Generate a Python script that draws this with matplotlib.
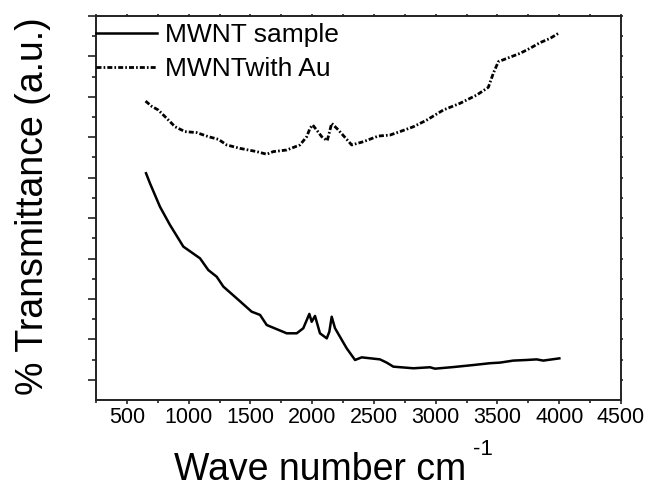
import numpy as np
import matplotlib
matplotlib.use("Agg")
import matplotlib.pyplot as plt
from matplotlib.ticker import FixedLocator, NullFormatter

plt.rcParams['font.family'] = ['Liberation Sans', 'DejaVu Sans']
plt.rcParams['lines.scale_dashes'] = False

# ---- data (wavenumber, transmittance in arbitrary units) ----
solid_x = [655, 687, 768, 849, 957, 1092, 1159, 1227, 1281, 1389, 1510, 1578, 1632,
           1794, 1875, 1928, 1977, 1996, 2023, 2063, 2118, 2139, 2158, 2185, 2279,
           2347, 2401, 2549, 2603, 2657, 2819, 2954, 2994, 3143, 3304, 3439, 3520,
           3628, 3736, 3817, 3871, 4001]
solid_y = [11.22, 10.72, 9.56, 8.66, 7.59, 7.01, 6.43, 6.10, 5.61, 5.03, 4.37, 4.21, 3.71,
           3.30, 3.30, 3.55, 4.26, 3.87, 4.16, 3.30, 3.05, 3.38, 4.12, 3.55, 2.56,
           1.98, 2.11, 2.01, 1.85, 1.65, 1.57, 1.62, 1.55, 1.63, 1.73, 1.82, 1.85,
           1.95, 1.98, 2.01, 1.95, 2.06]

au_x = [651, 701, 754, 822, 890, 970, 1065, 1159, 1240, 1308, 1416, 1551, 1632, 1685,
        1794, 1901, 1956, 1982, 2004, 2036, 2077, 2122, 2158, 2212, 2320, 2414, 2535,
        2630, 2711, 2819, 2927, 3062, 3197, 3332, 3426, 3466, 3507, 3575, 3682, 3763,
        3844, 3925, 4001]
au_y = [14.79, 14.53, 14.35, 13.94, 13.52, 13.28, 13.23, 13.03, 12.90, 12.62, 12.45, 12.29,
        12.16, 12.29, 12.37, 12.62, 13.03, 13.44, 13.61, 13.36, 13.03, 12.83, 13.69, 13.36,
        12.62, 12.78, 13.06, 13.11, 13.28, 13.52, 13.85, 14.35, 14.68, 15.09, 15.47, 16.16,
        16.74, 16.90, 17.15, 17.40, 17.68, 17.89, 18.17]

series_labels = ["MWNT sample", "MWNTwith Au"]
x_ticks = [500, 1000, 1500, 2000, 2500, 3000, 3500, 4000, 4500]
x_minor = [250, 750, 1250, 1750, 2250, 2750, 3250, 3750, 4250]

W, H = 647, 490
fig = plt.figure(figsize=(W / 100, H / 100), dpi=100)
L, R, T, B = 96, 621, 16, 400
ax = fig.add_axes([L / W, 1 - B / H, (R - L) / W, (B - T) / H])

ax.plot(solid_x, solid_y, color='black', lw=1.8, label=series_labels[0],
        solid_joinstyle='round')
ax.plot(au_x, au_y, color='black', lw=2.0, label=series_labels[1],
        dashes=(3.6, 1.5, 1.2, 1.5))

ax.set_xlim(250, 4500)
ax.set_ylim(0, 19)

ax.xaxis.set_major_locator(FixedLocator(x_ticks))
ax.xaxis.set_minor_locator(FixedLocator(x_minor))
ax.yaxis.set_major_locator(FixedLocator(np.arange(1, 20, 2)))
ax.yaxis.set_minor_locator(FixedLocator(np.arange(2, 19, 2)))
ax.yaxis.set_major_formatter(NullFormatter())

for s in ax.spines.values():
    s.set_linewidth(1.4)
    s.set_color('#222222')

ax.tick_params(axis='x', which='major', direction='out', length=3.0, width=1.2,
               labelsize=15.5, pad=2, color='#222222')
ax.tick_params(axis='x', which='minor', direction='out', length=2.5, width=1.2,
               color='#222222')
ax.tick_params(axis='y', which='major', direction='out', length=5.8, width=1.2,
               color='#222222')
ax.tick_params(axis='y', which='minor', direction='out', length=3.0, width=1.2,
               color='#222222')

# tiny ticks on top / right
secx = ax.secondary_xaxis('top')
secx.xaxis.set_major_locator(FixedLocator(x_ticks))
secx.xaxis.set_minor_locator(FixedLocator(x_minor))
secx.tick_params(which='both', direction='out', length=1.5, width=1.2, labeltop=False,
                 color='#222222')
secx.spines['top'].set_visible(False)
secy = ax.secondary_yaxis('right')
secy.yaxis.set_major_locator(FixedLocator(np.arange(1, 20, 2)))
secy.yaxis.set_minor_locator(FixedLocator(np.arange(2, 19, 2)))
secy.tick_params(which='both', direction='out', length=1.5, width=1.2, labelright=False,
                 color='#222222')
secy.spines['right'].set_visible(False)

leg = ax.legend(loc='upper left', bbox_to_anchor=(0, 0.982), frameon=False,
                fontsize=19, handlelength=2.32, handletextpad=0.3,
                borderpad=0.0, borderaxespad=0.0, labelspacing=0.38)

fig.text(33 / W, 1 - 206 / H, "% Transmittance (a.u.)", rotation=90,
         ha='center', va='center', fontsize=27)
fig.text(174 / W, 1 - 480 / H, "Wave number cm", ha='left', va='baseline',
         fontsize=27)
fig.text(473 / W, 1 - 455 / H, "-1", ha='left', va='baseline', fontsize=16)

fig.savefig("out.png", dpi=100)
